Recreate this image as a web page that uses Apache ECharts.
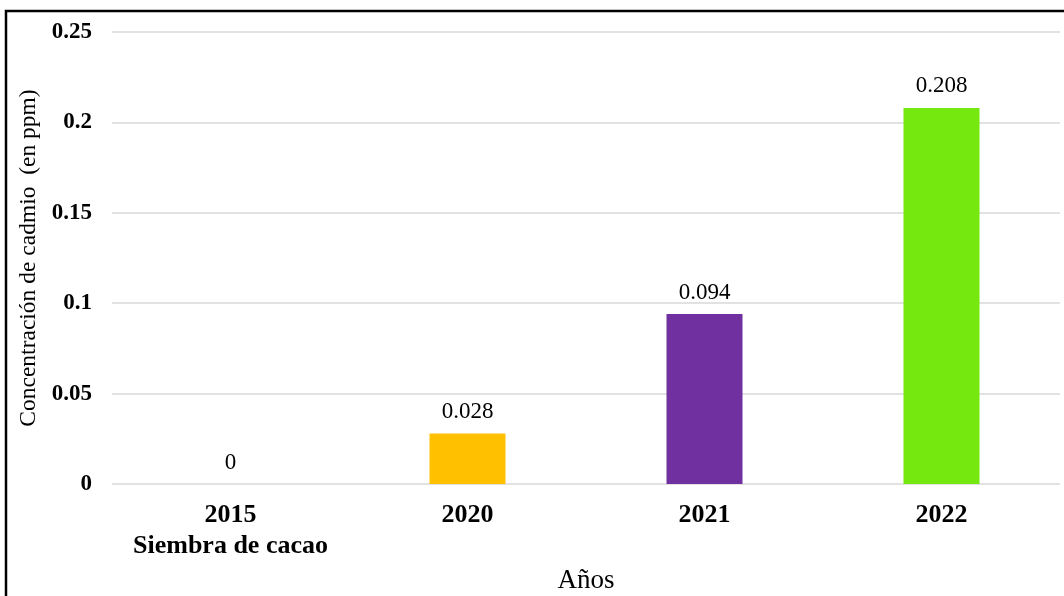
<!DOCTYPE html>
<html>
<head>
<meta charset="utf-8">
<style>
  html, body { margin: 0; padding: 0; background: #ffffff; }
  #chart { width: 1064px; height: 596px; }
</style>
<script src="https://cdn.jsdelivr.net/npm/echarts@6/dist/echarts.min.js"></script>
</head>
<body>
<div id="chart"></div>
<script>
// Cadmium concentration in cacao soil by year
const categories = ['2015\nSiembra de cacao', '2020', '2021', '2022'];
const values = [0, 0.028, 0.094, 0.208];
const barColors = ['#FFC000', '#FFC000', '#7030A0', '#74E80F'];
const yTicks = { min: 0, max: 0.25, interval: 0.05 };

const serif = '"Liberation Serif", "Times New Roman", serif';

const chart = echarts.init(document.getElementById('chart'), null, { renderer: 'canvas' });

chart.setOption({
  backgroundColor: '#ffffff',
  animation: false,
  graphic: [{
    type: 'rect',
    shape: { x: 6, y: 11, width: 1200, height: 800 },
    style: { fill: 'none', stroke: '#000000', lineWidth: 2.5 },
    silent: true,
    z: 100
  }],
  grid: {
    left: 112, right: 4, top: 32, bottom: 112,
    containLabel: false,
    outerBoundsMode: 'none'
  },
  xAxis: {
    type: 'category',
    data: categories,
    name: 'Años',
    nameLocation: 'middle',
    nameGap: 83,
    nameTextStyle: { fontFamily: serif, fontSize: 27, color: '#000000' },
    axisLine: { show: false },
    axisTick: { show: false },
    axisLabel: {
      interval: 0,
      hideOverlap: false,
      fontFamily: serif, fontSize: 26, fontWeight: 'bold', color: '#000000',
      margin: 16, lineHeight: 31
    }
  },
  yAxis: {
    type: 'value',
    min: yTicks.min,
    max: yTicks.max,
    interval: yTicks.interval,
    name: 'Concentración de cadmio  (en ppm)',
    nameLocation: 'middle',
    nameGap: 69,
    nameTextStyle: { fontFamily: serif, fontSize: 23.5, color: '#000000' },
    axisLine: { show: false },
    axisTick: { show: false },
    splitLine: { lineStyle: { color: '#d9d9d9', width: 1.5 } },
    axisLabel: {
      fontFamily: serif, fontSize: 23, fontWeight: 'bold', color: '#000000',
      margin: 20,
      formatter: v => String(Math.round(v * 100) / 100)
    }
  },
  series: [{
    type: 'bar',
    barWidth: 76,
    data: values.map((v, i) => ({ value: v, itemStyle: { color: barColors[i] } })),
    label: {
      show: true,
      position: 'top',
      distance: 10,
      fontFamily: serif,
      fontSize: 23,
      color: '#000000',
      formatter: p => String(p.value)
    }
  }]
});
</script>
</body>
</html>
